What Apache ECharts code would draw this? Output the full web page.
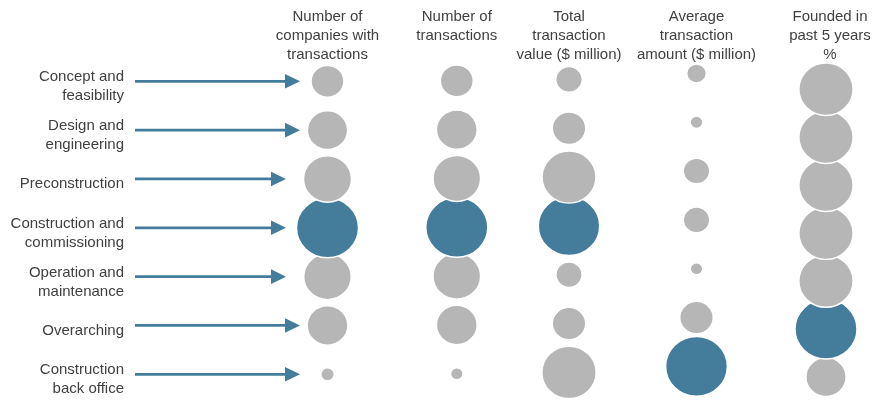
<!DOCTYPE html>
<html><head><meta charset="utf-8">
<script src="https://cdn.jsdelivr.net/npm/echarts@6/dist/echarts.min.js"></script>
<style>html,body{margin:0;padding:0;background:#fff}#c{width:872px;height:401px}</style>
</head><body><div id="c"></div>
<script>
// ---- data ----
const stages = ['Concept and\nfeasibility', 'Design and\nengineering', 'Preconstruction',
  'Construction and\ncommissioning', 'Operation and\nmaintenance', 'Overarching', 'Construction\nback office'];
const metrics = ['Number of\ncompanies with\ntransactions', 'Number of\ntransactions',
  'Total\ntransaction\nvalue ($ million)', 'Average\ntransaction\namount ($ million)', 'Founded in\npast 5 years\n%'];
// relative magnitude (% of the largest bubble, area-scaled)
const companiesWithTx = [27, 41, 59, 100, 58, 42, 4];
const numTransactions = [27, 42, 58, 100, 58, 42, 3.3];
const totalValue      = [17, 28, 75, 98, 16.6, 28, 76];
const avgAmount       = [9, 3.5, 17, 17, 3.3, 28, 99];
const foundedPast5    = [76, 76, 76, 76, 76, 100, 41];
const seriesValues = [companiesWithTx, numTransactions, totalValue, avgAmount, foundedPast5];

// ---- layout / style ----
const colCenters = [327.5, 456.8, 569, 696.5, 830];
const colTops = [56.9, 56.4, 55.0, 49.0, 65.3];
const GRID_W = 100, GRID_H = 341.8;
const MAX_D = 60.6, BORDER = 1.5, ASPECT = 0.965;
const LABEL_RIGHT = 124, LABEL_DY = 5.3;
const GREY = '#b6b6b6', BLUE = '#447c9b', TEXT = '#404040';
const FONT = '"Liberation Sans", Arial, Helvetica, sans-serif';
const sizeOf = v => Math.sqrt(v / 100) * MAX_D + BORDER;

const chart = echarts.init(document.getElementById('c'), null, {renderer: 'canvas'});

const grids = [], xAxes = [], yAxes = [], series = [];
metrics.forEach((m, i) => {
  grids.push({left: colCenters[i] - GRID_W / 2, width: GRID_W, top: colTops[i], height: GRID_H});
  xAxes.push({type: 'category', gridIndex: i, data: [m], show: false});
  yAxes.push({
    type: 'category', gridIndex: i, data: stages, inverse: true,
    axisLine: {show: false}, axisTick: {show: false}, splitLine: {show: false},
    axisLabel: {show: false}
  });
  const vals = seriesValues[i];
  const maxV = Math.max(...vals);
  const data = [];
  for (let r = stages.length - 1; r >= 0; r--) {
    data.push({value: [0, r, vals[r]], itemStyle: {color: vals[r] === maxV ? BLUE : GREY}});
  }
  series.push({
    type: 'scatter', xAxisIndex: i, yAxisIndex: i, data,
    symbol: 'circle', symbolSize: d => [sizeOf(d[2]), sizeOf(d[2]) * ASPECT],
    itemStyle: {borderColor: '#fff', borderWidth: BORDER, opacity: 1},
    emphasis: {disabled: true}, silent: true, animation: false
  });
});

chart.setOption({
  animation: false,
  backgroundColor: '#fff',
  grid: grids, xAxis: xAxes, yAxis: yAxes, series
});

// headers, row labels and arrows
const graphics = [];
metrics.forEach((m, i) => {
  graphics.push({
    type: 'text', x: colCenters[i], y: 7, silent: true,
    style: {text: m, align: 'center', verticalAlign: 'top', fontSize: 15, lineHeight: 19,
      fontFamily: FONT, fill: TEXT}
  });
});
stages.forEach((s, r) => {
  const y = chart.convertToPixel({gridIndex: 0}, [0, r])[1];
  graphics.push({
    type: 'text', x: LABEL_RIGHT, y: y + LABEL_DY, silent: true,
    style: {text: s, align: 'right', verticalAlign: 'middle', fontSize: 15, lineHeight: 19,
      fontFamily: FONT, fill: TEXT}
  });
  const d = sizeOf(seriesValues[0][r]);
  const end = d > 44 ? 286 : 300;
  graphics.push({type: 'line', silent: true, shape: {x1: 135, y1: y, x2: end - 12, y2: y},
    style: {stroke: BLUE, lineWidth: 2.7}});
  graphics.push({type: 'polygon', silent: true,
    shape: {points: [[end - 15, y - 7.3], [end, y], [end - 15, y + 7.3]]},
    style: {fill: BLUE}});
});
chart.setOption({graphic: graphics});
</script></body></html>
